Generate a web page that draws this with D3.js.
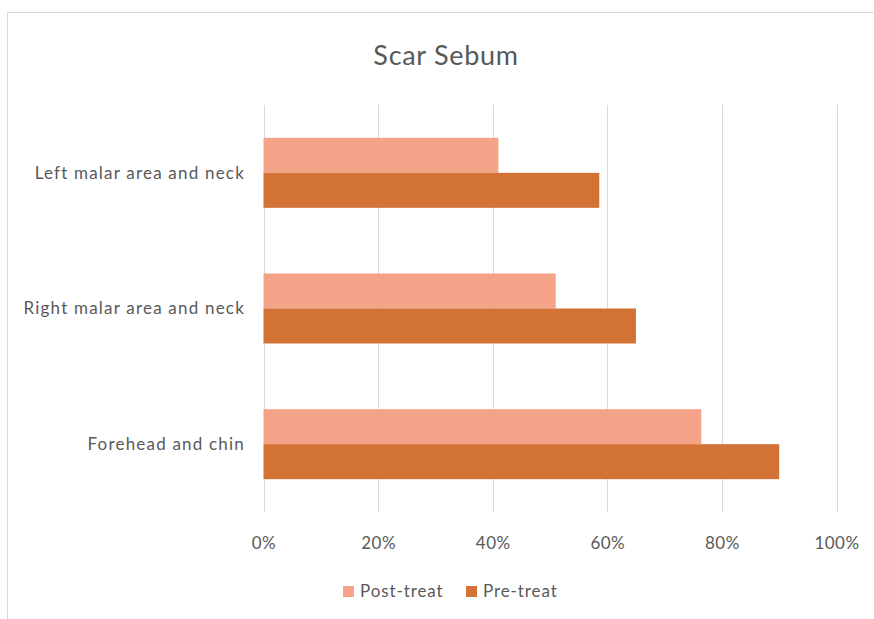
<!DOCTYPE html>
<html>
<head>
<meta charset="utf-8">
<script src="https://cdn.jsdelivr.net/npm/d3@7"></script>
<style>
  body { margin: 0; background: #fff; }
  text { font-family: Lato, "Open Sans", sans-serif; fill: #595959; }
</style>
</head>
<body>
<script>
var w = 874;
var h = 619;

// data
var categories = ["Left malar area and neck", "Right malar area and neck", "Forehead and chin"];
var series = ["Post-treat", "Pre-treat"];
var postTreat = [0.41, 0.51, 0.764];
var preTreat = [0.586, 0.65, 0.90];
var ticks = [0, 0.2, 0.4, 0.6, 0.8, 1.0];
var colors = ["#F4A389", "#D27235"];

// plot area (not "top" -- window.top is read-only)
var plotL = 263.5, plotR = 836.5, plotT = 105, plotB = 512;

var svg = d3.select("body").append("svg")
    .attr("width", w)
    .attr("height", h);

// chart border (runs past the right / bottom edge)
svg.append("rect")
    .attr("x", 7.5).attr("y", 12.5)
    .attr("width", w + 20).attr("height", h + 20)
    .attr("fill", "none")
    .attr("stroke", "#d9d9d9")
    .attr("stroke-width", 1);

svg.append("text")
    .attr("x", 446).attr("y", 65)
    .attr("text-anchor", "middle")
    .attr("font-size", 27)
    .attr("letter-spacing", 0.7)
    .text("Scar Sebum");

var x = d3.scaleLinear().domain([0, 1]).range([plotL, plotR]);
var y = d3.scaleBand().domain(categories).range([plotT, plotB]).paddingInner(0).paddingOuter(0);
var inner = d3.scaleBand().domain(series).range([0, 70]);
var groupOffset = (y.bandwidth() - 70) / 2;

// gridlines
svg.append("g").selectAll("line")
    .data(ticks)
    .enter().append("line")
    .attr("x1", function(d){ return Math.round(x(d)) + 0.5; })
    .attr("x2", function(d){ return Math.round(x(d)) + 0.5; })
    .attr("y1", plotT).attr("y2", plotB)
    .attr("stroke", "#d9d9d9")
    .attr("stroke-width", 1);

// x axis labels
var xAxis = svg.append("g")
    .attr("transform", "translate(0," + 549 + ")")
    .call(d3.axisBottom(x).tickValues(ticks).tickSize(0).tickPadding(0).tickFormat(d3.format(".0%")));
xAxis.select(".domain").remove();
xAxis.selectAll("text")
    .attr("y", 0).attr("dy", 0)
    .attr("font-size", 17)
    .attr("letter-spacing", 0.5)
    .style("font-family", "Lato, 'Open Sans', sans-serif")
    .attr("fill", "#595959");

// y axis labels
var yAxis = svg.append("g")
    .attr("transform", "translate(" + 245 + ",0)")
    .call(d3.axisLeft(y).tickSize(0).tickPadding(0));
yAxis.select(".domain").remove();
yAxis.selectAll("text")
    .attr("x", 0).attr("dy", "0.35em")
    .attr("font-size", 17)
    .attr("letter-spacing", 1.2)
    .style("font-family", "Lato, 'Open Sans', sans-serif")
    .attr("fill", "#595959");

// bars
var rows = categories.map(function(c, i){
    return [{cat: c, s: series[0], v: postTreat[i]}, {cat: c, s: series[1], v: preTreat[i]}];
});

var groups = svg.append("g").selectAll("g")
    .data(rows)
    .enter().append("g")
    .attr("transform", function(d){ return "translate(0," + (y(d[0].cat) + groupOffset) + ")"; });

groups.selectAll("rect")
    .data(function(d){ return d; })
    .enter().append("rect")
    .attr("x", x(0))
    .attr("y", function(d){ return inner(d.s); })
    .attr("width", function(d){ return x(d.v) - x(0); })
    .attr("height", inner.bandwidth())
    .attr("fill", function(d, i){ return colors[i]; });

// legend
var legendX = [343, 466];
var legend = svg.append("g").selectAll("g")
    .data(series)
    .enter().append("g")
    .attr("transform", function(d, i){ return "translate(" + legendX[i] + "," + 586 + ")"; });
legend.append("rect")
    .attr("width", 11).attr("height", 11)
    .attr("fill", function(d, i){ return colors[i]; });
legend.append("text")
    .attr("x", 17).attr("y", 11)
    .attr("font-size", 17)
    .attr("letter-spacing", 0.9)
    .text(function(d){ return d; });
</script>
</body>
</html>
